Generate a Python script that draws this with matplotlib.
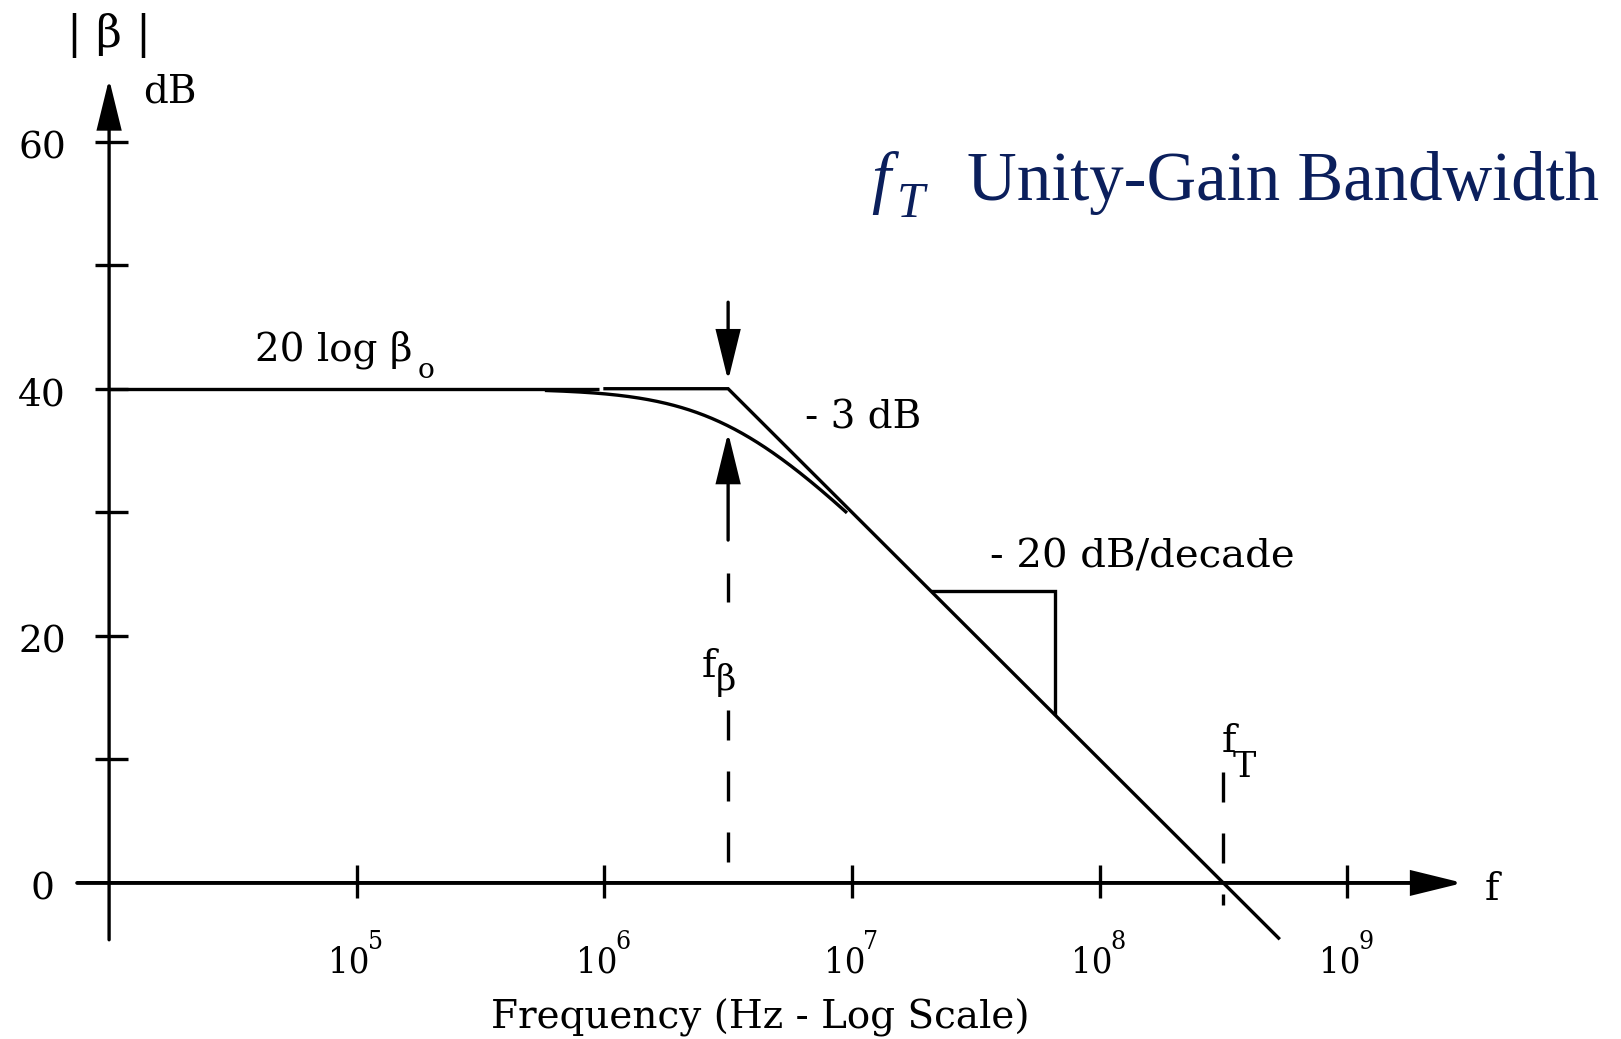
import numpy as np
import matplotlib
matplotlib.use("Agg")
import matplotlib.pyplot as plt

# Single-pole amplifier response
beta0_db = 40.0            # low-frequency gain, 20 log beta_o (dB)
f_beta = 10 ** 6.5         # -3 dB corner frequency (Hz)
rolloff = -20.0            # dB per decade above the corner
f_T = f_beta * 10 ** (beta0_db / -rolloff)   # unity-gain frequency (Hz)

y_major = [0, 20, 40, 60]
y_ticks = [10, 20, 30, 40, 50, 60]
x_decades = [5, 6, 7, 8, 9]

INK = "black"
NAVY = "#0b1f5c"
SERIF = "DejaVu Serif"
FS = 28
LW = 2.4


def asym(f):
    """Straight-line (Bode) approximation in dB."""
    f = np.asarray(f, dtype=float)
    return np.where(f <= f_beta, beta0_db,
                    beta0_db + rolloff * np.log10(f / f_beta))


def exact(f):
    return beta0_db - 10 * np.log10(1 + (f / f_beta) ** 2)


def dec(e):
    return 10.0 ** e


fig = plt.figure(figsize=(16.21, 10.39), dpi=100)
ax = fig.add_axes([0, 0, 1, 1])
ax.set_xscale("log")
ax.set_xlim(dec(3.5594), dec(10.106))
ax.set_ylim(-12.63, 71.46)
ax.axis("off")


def arrow(tail, tip, hl=31.0, hw=7.6, lw=LW):
    ax.annotate("", xy=tip, xytext=tail,
                arrowprops=dict(arrowstyle=f"-|>,head_length={hl},head_width={hw}",
                                mutation_scale=1, lw=lw, color=INK,
                                shrinkA=0, shrinkB=0, joinstyle="miter"))


# Axes with arrow heads
arrow((dec(3.871), 0), (dec(9.468), 0), lw=2.8)
arrow((dec(4.0), -4.6), (dec(4.0), 65.07))

# Tick marks
for v in y_ticks:
    ax.plot([dec(3.943), dec(4.077)], [v, v], color=INK, lw=LW, solid_capstyle="butt")
for d in x_decades:
    ax.plot([dec(d), dec(d)], [1.45, -1.22], color=INK, lw=LW, solid_capstyle="butt")

# Tick labels
for v in y_major:
    ax.text(dec(3.729), v - 1.33, str(v), ha="center", va="baseline",
            fontsize=FS - 1, family=SERIF)
for d in x_decades:
    ax.text(dec(d - 0.031), -7.21, "10", ha="center", va="baseline",
            fontsize=26, family=SERIF, fontstretch="condensed")
    ax.text(dec(d + 0.045), -5.35, str(d), ha="left", va="baseline",
            fontsize=19, family=SERIF, fontstretch="condensed")

# Axis annotations
ax.text(dec(4.0), 68.6, "| β |", ha="center", va="center", fontsize=32, family=SERIF)
ax.text(dec(4.137), 63.2, "dB", ha="left", va="baseline", fontsize=FS, family=SERIF)
ax.text(dec(9.557), -1.38, "f", ha="left", va="baseline", fontsize=FS, family=SERIF)
ax.text(dec(6.63), -11.74, "Frequency (Hz - Log Scale)", ha="center", va="baseline",
        fontsize=FS, family=SERIF)

# Flat asymptote (two strokes) and the roll-off asymptote
f_end = dec(8.728)
ax.plot([dec(4.0), dec(5.979)], [beta0_db, beta0_db], color=INK, lw=LW,
        solid_capstyle="butt")
f_seg = np.array([dec(5.996), f_beta, f_end])
ax.plot(f_seg, asym(f_seg), color=INK, lw=LW, solid_capstyle="butt",
        solid_joinstyle="miter")

# Actual response near the corner
f_curve = np.logspace(5.76, 6.98, 200)
ax.plot(f_curve, exact(f_curve), color=INK, lw=LW, solid_capstyle="butt")

# Slope triangle: half a decade, 10 dB
f1, f2 = dec(7.32), dec(7.82)
ax.plot([f1, f2, f2], [asym(f1), asym(f1), asym(f2)], color=INK, lw=LW,
        solid_joinstyle="miter", solid_capstyle="butt")

# -3 dB markers at f_beta
arrow((f_beta, 47.0), (f_beta, beta0_db + 0.65))
arrow((f_beta, 27.75), (f_beta, beta0_db - 3 - 0.55))

dash = dict(color=INK, lw=LW, dashes=(9.0, 9.3), dash_capstyle="butt")
ax.plot([f_beta, f_beta], [25.08, 22.73], **dash)
ax.plot([f_beta, f_beta], [13.99, 1.61], **dash)
ax.plot([f_T, f_T], [8.97, -1.79], **dash)

# Labels
ax.text(dec(4.589), 42.32, "20 log β", ha="left", va="baseline", fontsize=FS, family=SERIF)
ax.text(dec(5.245), 40.87, "o", ha="left", va="baseline", fontsize=FS * 0.72, family=SERIF)
ax.text(dec(6.81), 36.82, "- 3 dB", ha="left", va="baseline", fontsize=FS, family=SERIF)
ax.text(dec(7.559), 25.57, "- 20 dB/decade", ha="left", va="baseline", fontsize=FS + 1,
        family=SERIF)
ax.text(dec(6.393), 16.7, "f", ha="left", va="baseline", fontsize=FS, family=SERIF)
ax.text(dec(6.451), 15.6, "β", ha="left", va="baseline", fontsize=FS * 0.9, family=SERIF)
ax.text(dec(8.494), 10.6, "f", ha="left", va="baseline", fontsize=FS, family=SERIF)
ax.text(dec(8.539), 8.57, "T", ha="left", va="baseline", fontsize=FS * 0.9, family=SERIF)

# Heading
ax.text(dec(7.079), 55.31, "f", ha="left", va="baseline", fontsize=49.5,
        family="Liberation Serif", style="italic", color=NAVY)
ax.text(dec(7.182), 53.9, "T", ha="left", va="baseline", fontsize=36,
        family="Liberation Serif", style="italic", color=NAVY)
ax.text(dec(7.463), 55.31, "Unity-Gain Bandwidth", ha="left", va="baseline",
        fontsize=49.5, family="Liberation Serif", color=NAVY)

fig.savefig("out.png", dpi=100, facecolor="white")
